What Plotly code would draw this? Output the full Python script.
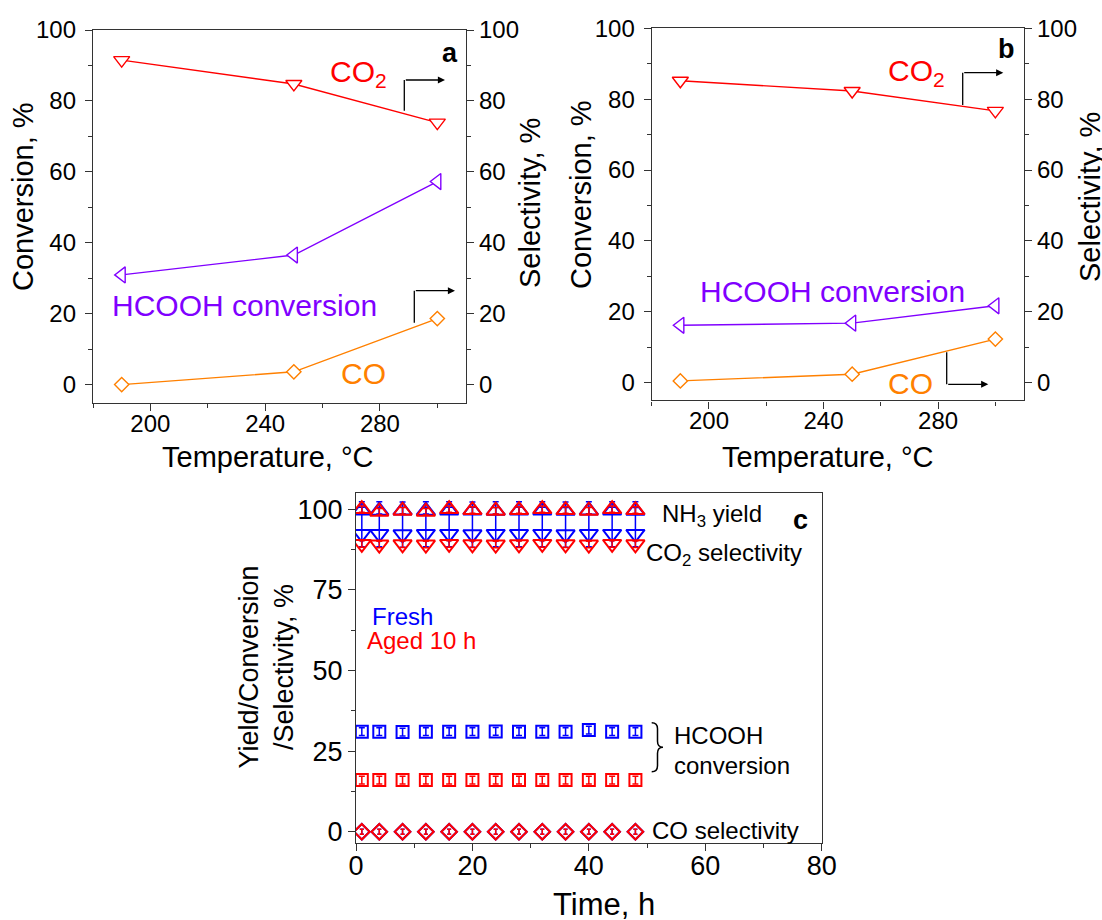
import plotly.graph_objects as go

W, H = 1102, 920
FONT = "Liberation Sans, Arial, sans-serif"

# ---------------- data ----------------
# panels a and b: temperature sweep
temperature = [190, 250, 300]
a_co2_selectivity = [91.5, 84.8, 73.9]
a_hcooh_conversion = [31.0, 36.6, 57.3]
a_co_selectivity = [0.1, 3.7, 18.7]

b_co2_selectivity = [85.2, 82.3, 76.7]
b_hcooh_conversion = [16.2, 16.8, 21.7]
b_co_selectivity = [0.5, 2.4, 12.3]

# panel c: stability over time
time_h = [1, 4, 8, 12, 16, 20, 24, 28, 32, 36, 40, 44, 48]
fresh_nh3_yield = [99.6, 99.5, 99.6, 99.5, 99.6, 99.6, 99.5, 99.6, 99.6, 99.5, 99.6, 99.6, 99.5]
aged_nh3_yield = [100.0, 99.2, 99.5, 99.2, 100.0, 99.7, 99.5, 99.7, 100.0, 99.7, 99.5, 100.0, 99.7]
fresh_co2_selectivity = [92.3, 92.3, 92.2, 92.3, 92.3, 92.2, 92.3, 92.3, 92.3, 92.2, 92.3, 92.3, 92.3]
aged_co2_selectivity = [89.2, 89.0, 89.1, 89.0, 89.2, 89.1, 89.0, 89.1, 89.2, 89.1, 89.0, 89.2, 89.1]
fresh_hcooh_conversion = [31.0, 31.0, 30.9, 31.0, 31.0, 31.0, 31.1, 31.0, 31.0, 31.0, 31.5, 31.0, 31.0]
aged_hcooh_conversion = [16.0, 16.0, 16.0, 16.0, 16.0, 16.0, 16.0, 16.0, 16.0, 16.0, 16.0, 16.0, 16.0]
fresh_co_selectivity = [0.0, 0.0, 0.0, 0.0, 0.0, 0.0, 0.0, 0.0, 0.0, 0.0, 0.0, 0.0, 0.0]
aged_co_selectivity = [0.0, 0.0, 0.0, 0.0, 0.0, 0.0, 0.0, 0.0, 0.0, 0.0, 0.0, 0.0, 0.0]

tick_ab = [0, 20, 40, 60, 80, 100]
tick_temp = [200, 240, 280]
tick_c_y = [0, 25, 50, 75, 100]
tick_c_x = [0, 20, 40, 60, 80]

RED = "#ff0000"
BLUE = "#0000ff"
PURPLE = "#8000ff"
ORANGE = "#ff8000"
AX = "#333333"


def px(x):
    return x / W


def py(y):
    return 1 - y / H


fig = go.Figure()


def line_trace(x, y, color, symbol, xa, ya, size):
    return go.Scatter(
        x=x, y=y, xaxis=xa, yaxis=ya, mode="lines+markers",
        line=dict(color=color, width=1.4),
        marker=dict(symbol=symbol, size=size, color="white",
                    line=dict(color=color, width=1.4)),
        showlegend=False, hoverinfo="x+y",
    )


# panel a
fig.add_trace(line_trace(temperature, a_hcooh_conversion, PURPLE, "triangle-left", "x", "y", 14))
fig.add_trace(line_trace(temperature, a_co2_selectivity, RED, "triangle-down", "x", "y2", 14))
fig.add_trace(line_trace(temperature, a_co_selectivity, ORANGE, "diamond", "x", "y2", 11))
# panel b
fig.add_trace(line_trace(temperature, b_hcooh_conversion, PURPLE, "triangle-left", "x2", "y3", 14))
fig.add_trace(line_trace(temperature, b_co2_selectivity, RED, "triangle-down", "x2", "y4", 14))
fig.add_trace(line_trace(temperature, b_co_selectivity, ORANGE, "diamond", "x2", "y4", 11))


def point_trace(y, color, symbol, size, err_plus, err_minus, err_w):
    return go.Scatter(
        x=time_h, y=y, xaxis="x3", yaxis="y5", mode="markers",
        marker=dict(symbol=symbol, size=size, color=color,
                    line=dict(color=color, width=2)),
        error_y=dict(type="data", symmetric=False, array=[err_plus] * len(time_h),
                     arrayminus=[err_minus] * len(time_h), color=color,
                     thickness=1.5, width=err_w),
        showlegend=False, hoverinfo="x+y",
    )


# panel c (fresh drawn first, aged on top)
fig.add_trace(point_trace(fresh_co_selectivity, BLUE, "diamond-open", 12, 0.8, 0.8, 2))
fig.add_trace(point_trace(fresh_hcooh_conversion, BLUE, "square-open", 12, 1.2, 1.2, 3))
fig.add_trace(point_trace(fresh_nh3_yield, BLUE, "triangle-up-open", 16, 1.0, 1.0, 3))
fig.add_trace(point_trace(fresh_co2_selectivity, BLUE, "triangle-down-open", 16, 10.0, 4.0, 3))
fig.add_trace(point_trace(aged_co_selectivity, RED, "diamond-open", 12, 0.8, 0.8, 2))
fig.add_trace(point_trace(aged_hcooh_conversion, RED, "square-open", 12, 1.2, 1.2, 3))
fig.add_trace(point_trace(aged_nh3_yield, RED, "triangle-up-open", 16, 1.0, 1.0, 3))
fig.add_trace(point_trace(aged_co2_selectivity, RED, "triangle-down-open", 16, 1.0, 1.0, 3))

tickfont_ab = dict(family=FONT, size=24, color="black")
tickfont_c = dict(family=FONT, size=27, color="black")


def xaxis_ab(domain, anchor):
    return dict(domain=domain, anchor=anchor, range=[180, 310], tickvals=tick_temp,
                ticks="outside", ticklen=7, tickwidth=1.3, tickcolor=AX, ticklabelstandoff=-8,
                minor=dict(ticks="outside", ticklen=4, tickwidth=1.3, tickcolor=AX, dtick=20, tick0=180),
                showline=True, linecolor=AX, linewidth=1.3, mirror=True, automargin=False,
                showgrid=False, zeroline=False, tickfont=tickfont_ab)


def yaxis_ab(domain, anchor, side, overlay=None):
    d = dict(domain=domain, anchor=anchor, side=side, range=[-5, 100], tickvals=tick_ab,
             ticks="outside", ticklen=7, tickwidth=1.3, tickcolor=AX,
             minor=dict(ticks="outside", ticklen=4, tickwidth=1.3, tickcolor=AX, dtick=10, tick0=0),
             showline=True, linecolor=AX, linewidth=1.3, automargin=False,
             showgrid=False, zeroline=False, tickfont=tickfont_ab)
    if side == "left":
        d["ticklabelstandoff"] = 4
    if overlay:
        d["overlaying"] = overlay
    return d


dom_a_x = [px(93), px(466)]
dom_a_y = [py(402.7), py(30)]
dom_b_x = [px(651.7), px(1024)]
dom_b_y = [py(400.4), py(28.3)]
dom_c_x = [px(356), px(821.7)]
dom_c_y = [py(842.7), py(493.3)]

fig.update_layout(
    width=W, height=H, margin=dict(l=0, r=0, t=0, b=0, autoexpand=False),
    paper_bgcolor="white", plot_bgcolor="white",
    font=dict(family=FONT, color="black"),
    xaxis=xaxis_ab(dom_a_x, "y"),
    yaxis=yaxis_ab(dom_a_y, "x", "left"),
    yaxis2=yaxis_ab(dom_a_y, "x", "right", overlay="y"),
    xaxis2=xaxis_ab(dom_b_x, "y3"),
    yaxis3=yaxis_ab(dom_b_y, "x2", "left"),
    yaxis4=yaxis_ab(dom_b_y, "x2", "right", overlay="y3"),
    xaxis3=dict(domain=dom_c_x, anchor="y5", range=[0, 80], tickvals=tick_c_x,
                ticks="outside", ticklen=7, tickwidth=1.3, tickcolor=AX, ticklabelstandoff=-8,
                minor=dict(ticks="outside", ticklen=4, tickwidth=1.3, tickcolor=AX, dtick=10, tick0=0),
                showline=True, linecolor=AX, linewidth=1.3, mirror=True, automargin=False,
                showgrid=False, zeroline=False, tickfont=tickfont_c),
    yaxis5=dict(domain=dom_c_y, anchor="x3", range=[-3.4, 104.9], tickvals=tick_c_y,
                ticks="outside", ticklen=7, tickwidth=1.3, tickcolor=AX,
                minor=dict(ticks="outside", ticklen=4, tickwidth=1.3, tickcolor=AX, dtick=12.5, tick0=0),
                showline=True, linecolor=AX, linewidth=1.3, mirror=True, automargin=False,
                showgrid=False, zeroline=False, tickfont=tickfont_c),
)

ann = []


def text(x, y, s, color="black", size=24, xanchor="center", bold=False, angle=0):
    if bold:
        s = "<b>" + s + "</b>"
    ann.append(dict(x=px(x), y=py(y), xref="paper", yref="paper", text=s, showarrow=False,
                    xanchor=xanchor, yanchor="middle", textangle=angle,
                    font=dict(family=FONT, size=size, color=color)))


def bent_arrow(x, y0, y1, x1):
    # vertical stem then horizontal arrow (pixel positions on the page)
    fig.add_shape(type="line", xref="paper", yref="paper", x0=px(x), x1=px(x), y0=py(y0), y1=py(y1),
                  line=dict(color="black", width=1.3))
    ann.append(dict(x=px(x1), y=py(y1), xref="paper", yref="paper", ax=x - x1, ay=0,
                    axref="pixel", ayref="pixel", text="", showarrow=True,
                    arrowhead=2, arrowsize=1.1, arrowwidth=1.3, arrowcolor="black"))


# axis titles
text(23, 197, "Conversion, %", size=29, angle=-90)
text(530, 203, "Selectivity, %", size=29, angle=-90)
text(581, 195, "Conversion, %", size=29, angle=-90)
text(1090, 197, "Selectivity, %", size=29, angle=-90)
text(267.5, 457, "Temperature, °C", size=29)
text(827, 457, "Temperature, °C", size=29)
text(265.5, 667, "Yield/Conversion<br>/Selectivity, %", size=27, angle=-90)
text(604, 904, "Time, h", size=31)

# panel a labels
text(449.5, 53, "a", size=27, bold=True)
text(328, 74, "CO<sub>2</sub>", RED, 30, "left")
text(244, 306, "HCOOH conversion", PURPLE, 30)
text(363.5, 373, "CO", ORANGE, 30)
bent_arrow(404.3, 110.7, 80, 445)
bent_arrow(414.3, 322.7, 290.7, 455)

# panel b labels
text(1006.7, 49, "b", size=27, bold=True)
text(886, 72, "CO<sub>2</sub>", RED, 30, "left")
text(832.5, 291, "HCOOH conversion", PURPLE, 30)
text(910.5, 383, "CO", ORANGE, 30)
bent_arrow(962.7, 105, 72.7, 1003.3)
bent_arrow(946.7, 352.3, 384.3, 988.3)

# panel c labels
text(660, 515, "NH<sub>3</sub> yield", size=24, xanchor="left")
text(800, 520, "c", size=27, bold=True)
text(644, 554, "CO<sub>2</sub> selectivity", size=24, xanchor="left")
text(370, 616.7, "Fresh", BLUE, 24, "left")
text(365, 640, "Aged 10 h", RED, 24, "left")
text(672, 735, "HCOOH", size=24, xanchor="left")
text(672, 765, "conversion", size=24, xanchor="left")
text(650, 830, "CO selectivity", size=24, xanchor="left")

# curly brace grouping the two HCOOH conversion rows
bx0, bx1, bx2 = 651.7, 657.5, 663
by0, bym, by1 = 722.7, 747.2, 771.7
brace = (f"M {px(bx0)},{py(by0)} Q {px(bx1)},{py(by0)} {px(bx1)},{py(by0 + 6)} "
         f"L {px(bx1)},{py(bym - 6)} Q {px(bx1)},{py(bym)} {px(bx2)},{py(bym)} "
         f"Q {px(bx1)},{py(bym)} {px(bx1)},{py(bym + 6)} "
         f"L {px(bx1)},{py(by1 - 6)} Q {px(bx1)},{py(by1)} {px(bx0)},{py(by1)}")
fig.add_shape(type="path", xref="paper", yref="paper", path=brace,
              line=dict(color="black", width=1.5))

fig.update_layout(annotations=ann)
fig.write_html("out.html")
